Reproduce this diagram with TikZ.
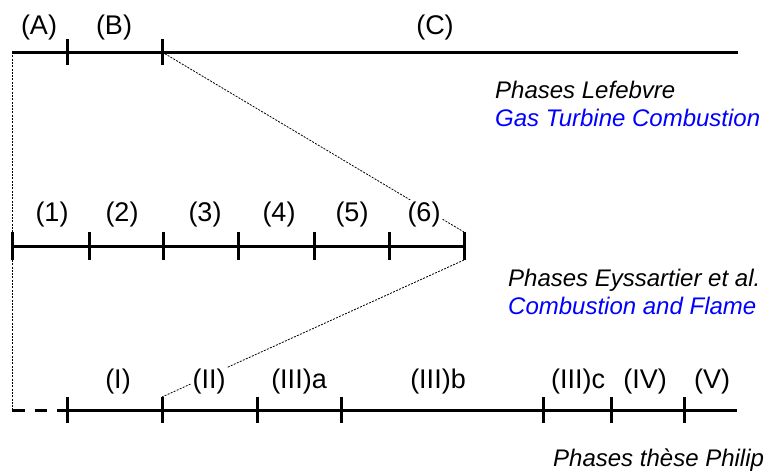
\documentclass[tikz,border=0pt]{standalone}
\usepackage{fontspec}
\setmainfont{Liberation Sans}
\definecolor{refblue}{RGB}{0,0,255}
\begin{document}
\begin{tikzpicture}[x=1pt,y=-1pt,
  axis/.style={line width=3pt},
  tickmark/.style={line width=3pt},
  guide/.style={line width=0.8pt, dash pattern=on 2pt off 1.3pt},
  stub/.style={line width=3pt, dash pattern=on 12.5pt off 10pt},
  lab/.style={font=\fontsize{27}{30}\selectfont, fill=white, inner sep=1.5pt, anchor=base},
  capt/.style={font=\fontsize{24}{28}\selectfont\itshape, anchor=base west, inner sep=0pt}]
\useasboundingbox (0,0) rectangle (766,475);

% top axis coordinates
\coordinate (t0) at (12,52);
\coordinate (tA) at (67,52);
\coordinate (tB) at (162,52);
\coordinate (t1) at (738,52);
% middle axis coordinates
\coordinate (m0) at (12,246);
\coordinate (m1) at (89,246);
\coordinate (m2) at (163,246);
\coordinate (m3) at (238,246);
\coordinate (m4) at (314,246);
\coordinate (m5) at (389,246);
\coordinate (m6) at (464,246);
\coordinate (m6top) at (464,232);
\coordinate (m6bot) at (464,260);
% bottom axis coordinates
\coordinate (b0) at (12,410);
\coordinate (b1) at (67,410);
\coordinate (b2) at (162,410);
\coordinate (b2top) at (162,397);
\coordinate (b3) at (257,410);
\coordinate (b4) at (341,410);
\coordinate (b5) at (543,410);
\coordinate (b6) at (611,410);
\coordinate (b7) at (684,410);
\coordinate (b8) at (737,410);

% guide lines
\draw[guide] (t0) -- (b0);
\draw[guide] (tB) -- (m6top);
\draw[guide] (m6bot) -- (b2top);

% top axis
\draw[axis] (t0) -- (t1);
\foreach \p in {tA,tB} \draw[tickmark] (\p) ++(0,-13) -- ++(0,26);

% middle axis
\draw[axis] (m0) -- (m6);
\foreach \p in {m0,m1,m2,m3,m4,m5,m6} \draw[tickmark] (\p) ++(0,-14) -- ++(0,28);

% bottom axis
\draw[stub] (b0) -- (b1);
\draw[axis] (b1) -- (b8);
\foreach \p in {b1,b2,b3,b4,b5,b6,b7} \draw[tickmark] (\p) ++(0,-13) -- ++(0,26);

% labels top
\node[lab] (lA) at (39,34) {(A)};
\node[lab] (lB) at (114,34) {(B)};
\node[lab] (lC) at (435,34) {(C)};
% labels middle
\node[lab] (l1) at (52,221) {(1)};
\node[lab] (l2) at (122,221) {(2)};
\node[lab] (l3) at (205,221) {(3)};
\node[lab] (l4) at (279,221) {(4)};
\node[lab] (l5) at (352,221) {(5)};
\node[lab] (l6) at (424,221) {(6)};
% labels bottom
\node[lab] (lI) at (118,388) {(I)};
\node[lab] (lII) at (209,388) {(II)};
\node[lab] (lIIIa) at (299,388) {(III)a};
\node[lab] (lIIIb) at (438,388) {(III)b};
\node[lab] (lIIIc) at (578,388) {(III)c};
\node[lab] (lIV) at (645,388) {(IV)};
\node[lab] (lV) at (712,388) {(V)};

% captions
\node[capt] (c1) at (495,98) {Phases Lefebvre};
\node[capt, text=refblue] (c1b) at (495,126) {Gas Turbine Combustion};
\node[capt] (c2) at (508,286) {Phases Eyssartier et al.};
\node[capt, text=refblue] (c2b) at (508,314) {Combustion and Flame};
\node[capt] (c3) at (553,466) {Phases thèse Philip};
\end{tikzpicture}
\end{document}
